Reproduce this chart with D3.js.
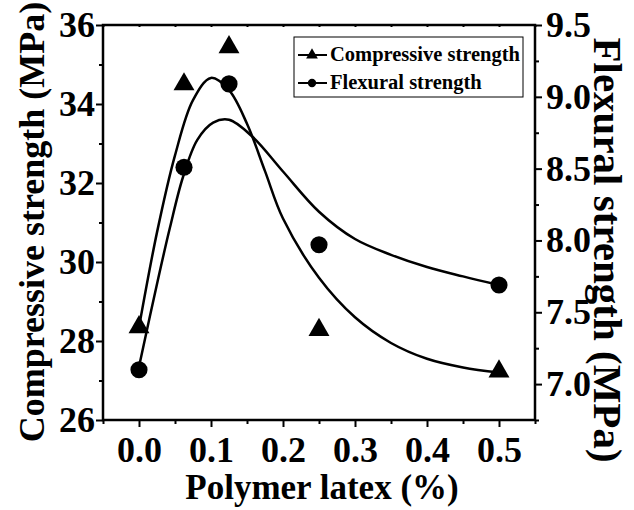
<!DOCTYPE html>
<html><head><meta charset="utf-8">
<script src="https://cdn.jsdelivr.net/npm/d3@7"></script>
<style>body{margin:0;background:#fff} text{font-family:"Liberation Serif","Times New Roman",serif;font-weight:bold;fill:#000}</style>
</head><body><svg id="c" width="634" height="510"></svg>
<script>
// Data
const latex = [0, 0.0625, 0.125, 0.25, 0.5];
const compressive = [28.35, 34.5, 35.44, 28.28, 27.23];
const flexural = [7.10, 8.51, 9.09, 7.97, 7.69];
// Fitted curves
const compFitX = [0, 0.025, 0.05, 0.075, 0.1, 0.125, 0.15, 0.175, 0.2, 0.25, 0.3, 0.35, 0.4, 0.45, 0.5];
const compFitY = [28.35, 30.75, 32.7, 34.1, 34.66, 34.35, 33.5, 32.3, 31.1, 29.6, 28.6, 27.95, 27.55, 27.33, 27.2];
const flexFitX = [0, 0.026, 0.043, 0.061, 0.081, 0.103, 0.125, 0.158, 0.2, 0.25, 0.3, 0.35, 0.4, 0.45, 0.5];
const flexFitY = [7.12, 7.72, 8.09, 8.44, 8.70, 8.82, 8.84, 8.72, 8.48, 8.20, 8.01, 7.90, 7.815, 7.75, 7.69];
const xTicks = [0, 0.1, 0.2, 0.3, 0.4, 0.5];
const xMinor = [-0.05, 0.05, 0.15, 0.25, 0.35, 0.45, 0.55];
const leftTicks = [26, 28, 30, 32, 34, 36];
const leftMinor = [27, 29, 31, 33, 35];
const rightTicks = [7.0, 7.5, 8.0, 8.5, 9.0, 9.5];
const rightMinor = [6.75, 7.25, 7.75, 8.25, 8.75, 9.25];
const seriesNames = ["Compressive strength", "Flexural strength"];
const xTitle = "Polymer latex (%)";
const leftTitle = "Compressive strength (MPa)";
const rightTitle = "Flexural strength (MPa)";

const L = 103, R = 535, T = 25, B = 420;
const svg = d3.select("#c");
const x = d3.scaleLinear().domain([-0.05, 0.55]).range([L, R]);
const yL = d3.scaleLinear().domain([26, 36]).range([B, T]);
const yR = d3.scaleLinear().domain([6.75, 9.5]).range([B, T]);

function styleAxis(g) {
  g.select(".domain").remove();
  g.selectAll("line").attr("stroke", "#000").attr("stroke-width", 2);
  g.selectAll("text").style("font-size", "36px").attr("fill", "#000");
}
// bottom
svg.append("g").attr("transform", `translate(0,${B})`)
  .call(d3.axisBottom(x).tickValues(xTicks).tickSize(7).tickPadding(9).tickFormat(d3.format(".1f")))
  .call(styleAxis);
svg.append("g").attr("transform", `translate(0,${B})`)
  .call(d3.axisBottom(x).tickValues(xMinor).tickSize(4).tickFormat(""))
  .call(styleAxis);
// top (small inward ticks)
svg.append("g").attr("transform", `translate(0,${T})`)
  .call(d3.axisBottom(x).tickValues(xTicks.concat(xMinor)).tickSize(2).tickFormat(""))
  .call(styleAxis);
// left
svg.append("g").attr("transform", `translate(${L},0)`)
  .call(d3.axisLeft(yL).tickValues(leftTicks).tickSize(7).tickPadding(1).tickFormat(d3.format("d")))
  .call(styleAxis);
svg.append("g").attr("transform", `translate(${L},0)`)
  .call(d3.axisLeft(yL).tickValues(leftMinor).tickSize(4).tickFormat(""))
  .call(styleAxis);
// right
svg.append("g").attr("transform", `translate(${R},0)`)
  .call(d3.axisRight(yR).tickValues(rightTicks).tickSize(7).tickPadding(4).tickFormat(d3.format(".1f")))
  .call(styleAxis);
svg.append("g").attr("transform", `translate(${R},0)`)
  .call(d3.axisRight(yR).tickValues(rightMinor).tickSize(4).tickFormat(""))
  .call(styleAxis);
// frame
svg.append("rect").attr("x", L).attr("y", T).attr("width", R - L).attr("height", B - T)
  .attr("fill", "none").attr("stroke", "#000").attr("stroke-width", 2.5);

// fitted curves
const compFit = compFitX.map((d, i) => [d, compFitY[i]]);
const flexFit = flexFitX.map((d, i) => [d, flexFitY[i]]);
svg.append("path").datum(compFit)
  .attr("d", d3.line().x(d => x(d[0])).y(d => yL(d[1])).curve(d3.curveCatmullRom.alpha(0.5)))
  .attr("fill", "none").attr("stroke", "#000").attr("stroke-width", 2.5);
svg.append("path").datum(flexFit)
  .attr("d", d3.line().x(d => x(d[0])).y(d => yR(d[1])).curve(d3.curveCatmullRom.alpha(0.5)))
  .attr("fill", "none").attr("stroke", "#000").attr("stroke-width", 2.5);

// markers
const tri = d3.symbol().type(d3.symbolTriangle).size(190);
const cir = d3.symbol().type(d3.symbolCircle).size(230);
svg.append("g").selectAll("path").data(latex).join("path")
  .attr("d", tri).attr("transform", (d, i) => `translate(${x(d)},${yL(compressive[i])})`).attr("fill", "#000");
svg.append("g").selectAll("path").data(latex).join("path")
  .attr("d", cir).attr("transform", (d, i) => `translate(${x(d)},${yR(flexural[i])})`).attr("fill", "#000");

// legend
const lg = svg.append("g");
lg.append("rect").attr("x", 294).attr("y", 37).attr("width", 229).attr("height", 60)
  .attr("fill", "#fff").attr("stroke", "#000").attr("stroke-width", 1);
const rows = [{y: 55, sym: d3.symbol().type(d3.symbolTriangle).size(60)}, {y: 83, sym: d3.symbol().type(d3.symbolCircle).size(55)}];
rows.forEach((r, i) => {
  lg.append("line").attr("x1", 298).attr("x2", 327).attr("y1", r.y).attr("y2", r.y).attr("stroke", "#000").attr("stroke-width", 2);
  lg.append("path").attr("d", r.sym).attr("transform", `translate(312,${r.y})`).attr("fill", "#000");
  lg.append("text").attr("x", 330).attr("y", r.y + 6).style("font-size", "20.5px").text(seriesNames[i]);
});

// titles
svg.append("text").attr("x", (L + R) / 2 + 3).attr("y", 499).attr("text-anchor", "middle").style("font-size", "35px").text(xTitle);
svg.append("text").attr("transform", "translate(44,222) rotate(-90)").attr("text-anchor", "middle").style("font-size", "36px").text(leftTitle);
svg.append("text").attr("transform", "translate(594,250) rotate(90)").attr("text-anchor", "middle").style("font-size", "41px").text(rightTitle);
</script></body></html>
